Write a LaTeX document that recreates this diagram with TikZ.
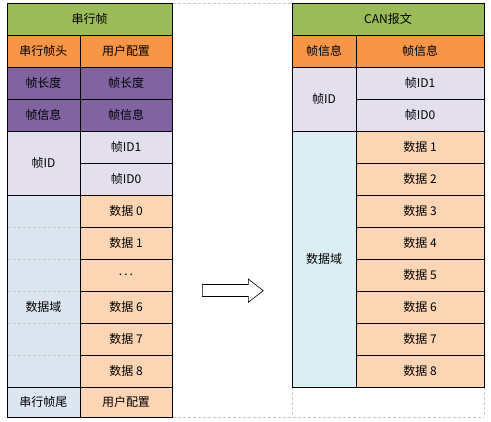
\documentclass[tikz,border=0pt]{standalone}
\usepackage{fontspec}
\newfontfamily\cjk{Noto Sans CJK SC}
\definecolor{hdgreen}{HTML}{9BBB59}
\definecolor{hdorange}{HTML}{F79646}
\definecolor{hdpurple}{HTML}{8064A2}
\definecolor{lav}{HTML}{E4DFEC}
\definecolor{lblue}{HTML}{DCE6F1}
\definecolor{cblue}{HTML}{DAEEF3}
\definecolor{peach}{HTML}{FCD5B4}
\definecolor{grid}{HTML}{C8C8C8}
\tikzset{
  cell/.style={draw=black, line width=0.9pt, inner sep=0pt, outer sep=0pt, font=\cjk\fontsize{12}{14}\selectfont},
  txt/.style={inner sep=0pt, font=\cjk\fontsize{12}{14}\selectfont},
  gridline/.style={draw=grid, line width=0.7pt, dash pattern=on 3pt off 2pt},
  blockarrow/.style={draw=black, line width=0.6pt, fill=white}
}
\newcommand\mkcell[7]{%
  \node[cell, fill=#6, minimum width={#4-#2}, minimum height={#5-#3}] (#1) at ({(#2+#4)/2},{(#3+#5)/2}) {#7};}
\begin{document}
\begin{tikzpicture}[x=1pt,y=-1pt]
\useasboundingbox (0,0) rectangle (491,422);
% outer print-area grid lines
\draw[gridline] (173,3) -- (291,3);
\draw[gridline] (173,417) -- (484,417);
\draw[gridline] (292,387) -- (292,417);
\draw[gridline] (484,387) -- (484,417);
% ---------- left table ----------
\mkcell{lhead}{7}{3}{172}{35}{hdgreen}{串行帧}
\mkcell{lh1}{7}{35}{80}{67}{hdorange}{串行帧头}
\mkcell{lh2}{80}{35}{172}{67}{hdorange}{用户配置}
\mkcell{ll1}{7}{67}{80}{99}{hdpurple}{帧长度}
\mkcell{ll2}{80}{67}{172}{99}{hdpurple}{帧长度}
\mkcell{li1}{7}{99}{80}{131}{hdpurple}{帧信息}
\mkcell{li2}{80}{99}{172}{131}{hdpurple}{帧信息}
\mkcell{lid}{7}{131}{80}{195}{lav}{帧ID}
\mkcell{lid1}{80}{131}{172}{163}{lav}{帧ID1}
\mkcell{lid0}{80}{163}{172}{195}{lav}{帧ID0}
\mkcell{ldom}{7}{195}{80}{387}{lblue}{}
\foreach \yy in {227,259,291,323,355} {\draw[gridline] (7.6,\yy) -- (79.4,\yy);}
\node[txt] (ldomtxt) at (43.5,307) {数据域};
\mkcell{ld0}{80}{195}{172}{227}{peach}{数据 0}
\mkcell{ld1}{80}{227}{172}{259}{peach}{数据 1}
\mkcell{ldd}{80}{259}{172}{291}{peach}{\raisebox{-2pt}{.\,.\,.}}
\mkcell{ld6}{80}{291}{172}{323}{peach}{数据 6}
\mkcell{ld7}{80}{323}{172}{355}{peach}{数据 7}
\mkcell{ld8}{80}{355}{172}{387}{peach}{数据 8}
\mkcell{lt1}{7}{387}{80}{417}{lblue}{串行帧尾}
\mkcell{lt2}{80}{387}{172}{417}{peach}{用户配置}
% ---------- right table ----------
\mkcell{rhead}{292}{3}{484}{35}{hdgreen}{CAN报文}
\mkcell{rh1}{292}{35}{356}{67}{hdorange}{帧信息}
\mkcell{rh2}{356}{35}{484}{67}{hdorange}{帧信息}
\mkcell{rid}{292}{67}{356}{131}{lav}{帧ID}
\mkcell{rid1}{356}{67}{484}{99}{lav}{帧ID1}
\mkcell{rid0}{356}{99}{484}{131}{lav}{帧ID0}
\mkcell{rdom}{292}{131}{356}{387}{cblue}{数据域}
\mkcell{rd1}{356}{131}{484}{163}{peach}{数据 1}
\mkcell{rd2}{356}{163}{484}{195}{peach}{数据 2}
\mkcell{rd3}{356}{195}{484}{227}{peach}{数据 3}
\mkcell{rd4}{356}{227}{484}{259}{peach}{数据 4}
\mkcell{rd5}{356}{259}{484}{291}{peach}{数据 5}
\mkcell{rd6}{356}{291}{484}{323}{peach}{数据 6}
\mkcell{rd7}{356}{323}{484}{355}{peach}{数据 7}
\mkcell{rd8}{356}{355}{484}{387}{peach}{数据 8}
% ---------- block arrow ----------
\draw[blockarrow] (202.3,284.5) -- (248.3,284.5) -- (248.3,279) -- (263.3,290.7)
  -- (248.3,302.3) -- (248.3,296.5) -- (202.3,296.5) -- cycle;
\end{tikzpicture}
\end{document}
